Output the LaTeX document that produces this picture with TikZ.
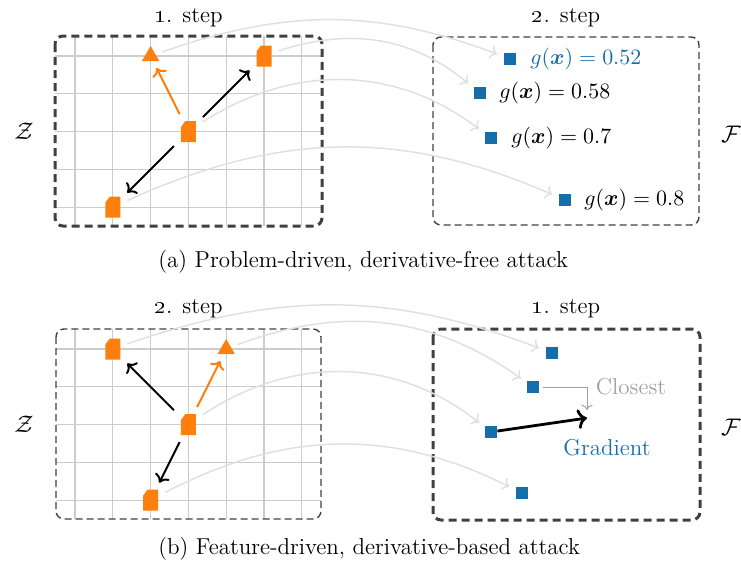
\documentclass[tikz,border=0pt]{standalone}
\usepackage{amsmath}
\usetikzlibrary{shapes.geometric,arrows.meta}
\definecolor{myorange}{RGB}{255,127,14}
\definecolor{myblue}{RGB}{20,110,170}
\definecolor{boxgray}{RGB}{64,64,64}
\definecolor{gridgray}{RGB}{204,204,204}
\definecolor{curvegray}{RGB}{224,224,224}
\definecolor{closegray}{RGB}{160,160,160}
\tikzset{
  every node/.style={inner sep=0pt, font=\fontsize{11.5}{13.5}\selectfont},
  mathlabel/.style={anchor=west, font=\fontsize{11}{13}\selectfont},
  gridline/.style={draw=gridgray, line width=0.6pt},
  boxthick/.style={draw=boxgray, line width=1.5pt, dash pattern=on 4pt off 2.5pt, rounded corners=4pt},
  boxthin/.style={draw=boxgray, line width=0.7pt, dash pattern=on 3.5pt off 2pt, rounded corners=4pt},
  osq/.style={rectangle, minimum width=7.5pt, minimum height=10.5pt, outer sep=3.5pt,
    path picture={\fill[myorange] (path picture bounding box.south west) -- (path picture bounding box.south east)
      -- (path picture bounding box.north east) -- ([xshift=2.2pt]path picture bounding box.north west)
      -- ([yshift=-3pt]path picture bounding box.north west) -- cycle;}},
  otri/.style={regular polygon, regular polygon sides=3, minimum size=10pt, fill=myorange, outer sep=3.5pt},
  bsq/.style={rectangle, fill=myblue, minimum size=6pt},
  curve/.style={draw=curvegray, line width=0.75pt, ->, shorten >=3.5pt},
  karrow/.style={draw=black, line width=1pt, ->},
  oarrow/.style={draw=myorange, line width=1pt, ->},
  gradarrow/.style={draw=black, line width=1.4pt, ->},
  closearrow/.style={draw=closegray, line width=0.5pt, ->},
}
\begin{document}
\begin{tikzpicture}[x=0.5pt,y=-0.5pt]
\useasboundingbox (0,0) rectangle (741,568);
% ---------- panel (a) ----------
\foreach \i in {0,...,6} \draw[gridline] ({75+37.8*\i},36) -- ({75+37.8*\i},226);
\foreach \j in {0,...,4} \draw[gridline] (55,{56+37.8*\j}) -- (322,{56+37.8*\j});
\draw[boxthick] (55,36) rectangle (322,226);
\draw[boxthin] (433,37) rectangle (699,225);
\node[anchor=base] (sa1) at (188.5,22) {\oldstylenums{1}. step};
\node[anchor=base] (sa2) at (566,22) {\oldstylenums{2}. step};
\node (za) at (24,131) {$\mathcal{Z}$};
\node (fa) at (731,134) {$\mathcal{F}$};
\node[otri] (a1) at (150.6,56) {};
\node[osq] (a2) at (264,56) {};
\node[osq] (a3) at (188.4,131.6) {};
\node[osq] (a4) at (112.8,207.2) {};
\node[bsq] (b1) at (510,59) {};
\node[bsq] (b2) at (480,93) {};
\node[bsq] (b3) at (491,138) {};
\node[bsq] (b4) at (565,200) {};
\node[mathlabel, text=myblue] (lb1) at (530,59) {$g(\boldsymbol{x}) = 0.52$};
\node[mathlabel] (lb2) at (499,93) {$g(\boldsymbol{x}) = 0.58$};
\node[mathlabel] (lb3) at (511,138) {$g(\boldsymbol{x}) = 0.7$};
\node[mathlabel] (lb4) at (584,200) {$g(\boldsymbol{x}) = 0.8$};
\draw[karrow] (a3) -- (a2);
\draw[karrow] (a3) -- (a4);
\draw[oarrow] (a3) -- (a1);
\draw[curve] (a1) to[bend left=20] (b1);
\draw[curve] (a2) to[bend left=29] (b2);
\draw[curve] (a3) to[bend left=35] (b3);
\draw[curve] (a4) to[bend left=24] (b4);
\node[anchor=west] (capa) at (158,262) {(a) Problem-driven, derivative-free attack};
% ---------- panel (b) ----------
\foreach \i in {0,...,6} \draw[gridline] ({75+37.8*\i},329) -- ({75+37.8*\i},519);
\foreach \j in {0,...,4} \draw[gridline] (56,{349+37.8*\j}) -- (321,{349+37.8*\j});
\draw[boxthin] (56,329) rectangle (321,519);
\draw[boxthick] (433,329) rectangle (700,520);
\node[anchor=base] (sb1) at (188.5,313) {\oldstylenums{2}. step};
\node[anchor=base] (sb2) at (566,313) {\oldstylenums{1}. step};
\node (zb) at (24,424) {$\mathcal{Z}$};
\node (fb) at (731,427) {$\mathcal{F}$};
\node[osq] (d1) at (112.8,349) {};
\node[otri] (d2) at (226.2,349) {};
\node[osq] (d3) at (188.4,424.6) {};
\node[osq] (d4) at (150.6,500.2) {};
\node[bsq] (c1) at (552,353) {};
\node[bsq] (c2) at (533,387) {};
\node[bsq] (c3) at (491,432) {};
\node[bsq] (c4) at (522,493) {};
\draw[karrow] (d3) -- (d1);
\draw[karrow] (d3) -- (d4);
\draw[oarrow] (d3) -- (d2);
\draw[curve] (d1) to[bend left=20] (c1);
\draw[curve] (d2) to[bend left=28] (c2);
\draw[curve] (d3) to[bend left=36] (c3);
\draw[curve] (d4) to[bend left=27] (c4);
\coordinate (g) at (587,418);
\coordinate (cl) at (587,410);
\draw[gradarrow] (c3) -- (g);
\draw[closearrow] ([xshift=2pt]c2.east) -| (cl);
\node[text=closegray] (tcl) at (631,387) {Closest};
\node[text=myblue] (tgr) at (607,448) {Gradient};
\node[anchor=west] (capb) at (158,549) {(b) Feature-driven, derivative-based attack};
\end{tikzpicture}
\end{document}
